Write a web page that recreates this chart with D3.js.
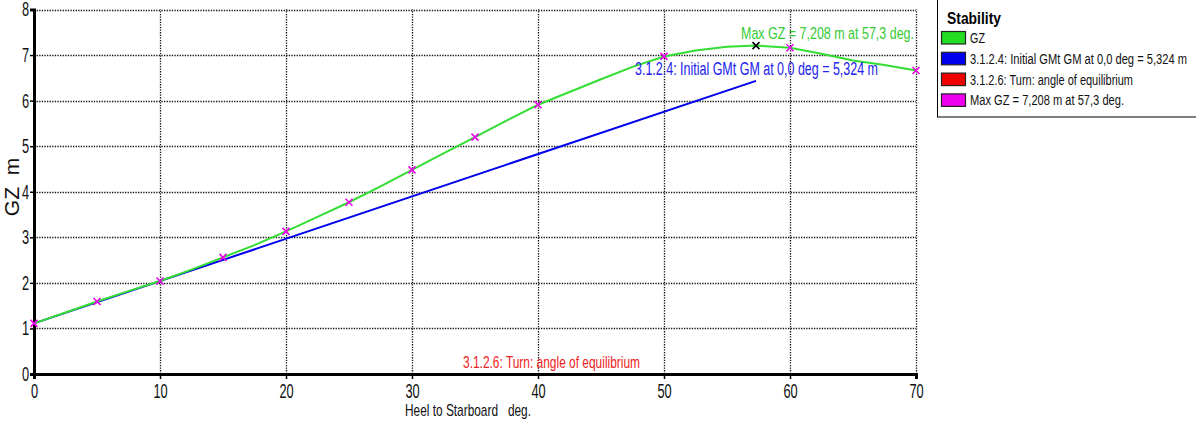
<!DOCTYPE html>
<html>
<head>
<meta charset="utf-8">
<script src="https://cdn.jsdelivr.net/npm/d3@7"></script>
<style>
  html, body { margin: 0; padding: 0; background: #fff; }
  svg { display: block; }
  text { font-family: "Liberation Sans", Arial, sans-serif; }
</style>
</head>
<body>
<svg id="chart" width="1196" height="423"></svg>
<script>
// ---------- data ----------
const heelDeg = [0, 2.5, 5, 7.5, 10, 12.5, 15, 17.5, 20, 22.5, 25, 27.5, 30, 32.5, 35, 37.5, 40, 42.5, 45, 47.5, 50, 52.5, 55, 57.3, 60, 62.5, 65, 67.5, 70];
const gzValues = [1.11, 1.35, 1.59, 1.82, 2.04, 2.29, 2.56, 2.83, 3.13, 3.45, 3.77, 4.12, 4.48, 4.84, 5.20, 5.56, 5.91, 6.19, 6.47, 6.74, 6.97, 7.10, 7.18, 7.208, 7.16, 7.03, 6.88, 6.78, 6.66];
const markerDeg = [0, 5, 10, 15, 20, 25, 30, 35, 40, 50, 60, 70];
const markerGZ = [1.11, 1.59, 2.04, 2.56, 3.13, 3.77, 4.48, 5.20, 5.91, 6.97, 7.16, 6.66];
const gmLineDeg = [0, 57.3];
const gmLineGZ = [1.11, 6.434];
const maxPoint = [57.3, 7.208];
const xTicks = [0, 10, 20, 30, 40, 50, 60, 70];
const yTicks = [0, 1, 2, 3, 4, 5, 6, 7, 8];
const legendLabels = ["GZ", "3.1.2.4: Initial GMt GM at 0,0 deg = 5,324 m", "3.1.2.6: Turn: angle of equilibrium", "Max GZ = 7,208 m at 57,3 deg."];
const legendColors = ["#22dd22", "#0000ee", "#ee0000", "#ee00ee"];

// ---------- layout ----------
const svg = d3.select("#chart");
const x = d3.scaleLinear().domain([0, 70]).range([34, 916]);
const y = d3.scaleLinear().domain([0, 8]).range([374, 9.5]);

function squeeze(sel, width) {
  sel.attr("textLength", width).attr("lengthAdjust", "spacingAndGlyphs");
}
function narrow(sel, f) {
  sel.each(function () {
    const l = this.getComputedTextLength();
    this.setAttribute("textLength", l * f);
    this.setAttribute("lengthAdjust", "spacingAndGlyphs");
  });
}

// grid
const grid = svg.append("g");
grid.selectAll("line.h").data(yTicks.filter(d => d > 0)).join("line")
  .attr("x1", x(0)).attr("x2", x(70))
  .attr("y1", d => Math.round(y(d)) + 0.5).attr("y2", d => Math.round(y(d)) + 0.5)
  .attr("stroke", "#111").attr("stroke-width", 1.3).attr("stroke-dasharray", "1.3,1.3");
grid.selectAll("line.v").data(xTicks.filter(d => d > 0)).join("line")
  .attr("x1", d => Math.round(x(d)) + 0.5).attr("x2", d => Math.round(x(d)) + 0.5)
  .attr("y1", y(0)).attr("y2", y(8))
  .attr("stroke", "#111").attr("stroke-width", 1.3).attr("stroke-dasharray", "1.3,1.3");

// axes
const xAxis = svg.append("g").attr("transform", `translate(0,${y(0)})`)
  .call(d3.axisBottom(x).tickValues(xTicks).tickSize(5).tickPadding(5));
xAxis.select(".domain").attr("stroke", "#000").attr("stroke-width", 3);
xAxis.selectAll(".tick line").attr("stroke", "#000").attr("stroke-width", 1.5);
xAxis.selectAll(".tick text").attr("font-size", 20).attr("fill", "#111")
  .attr("font-family", "Liberation Sans, Arial, sans-serif").call(narrow, 0.64);

const yAxis = svg.append("g").attr("transform", `translate(${x(0)},0)`)
  .call(d3.axisLeft(y).tickValues(yTicks).tickSize(4).tickPadding(1));
yAxis.select(".domain").attr("stroke", "#000").attr("stroke-width", 3);
yAxis.selectAll(".tick line").attr("stroke", "#000").attr("stroke-width", 1.5);
yAxis.selectAll(".tick text").attr("font-size", 20).attr("fill", "#111")
  .attr("font-family", "Liberation Sans, Arial, sans-serif").call(narrow, 0.64);
yAxis.selectAll(".tick").filter(d => d === 8).select("text").attr("dy", "0.28em");

// axis titles
svg.append("text").attr("x", 405).attr("y", 416).attr("font-size", 17).attr("fill", "#111")
  .attr("xml:space", "preserve").text("Heel to Starboard   deg.").call(squeeze, 126);
svg.append("text").attr("transform", "translate(19,187) rotate(-90)").attr("text-anchor", "middle")
  .attr("font-size", 21).attr("fill", "#111").attr("xml:space", "preserve").text("GZ  m");

// GM line
const line = d3.line().x(d => x(d[0])).y(d => y(d[1]));
svg.append("path").datum(d3.zip(gmLineDeg, gmLineGZ)).attr("d", line)
  .attr("fill", "none").attr("stroke", "#0000ee").attr("stroke-width", 2);

// GZ curve
svg.append("path").datum(d3.zip(heelDeg, gzValues)).attr("d", line)
  .attr("fill", "none").attr("stroke", "#33dd33").attr("stroke-width", 2);

// markers
function cross(g, cx, cy, s, color) {
  g.append("path").attr("d", `M${cx - s},${cy - s}L${cx + s},${cy + s}M${cx - s},${cy + s}L${cx + s},${cy - s}`)
    .attr("stroke", color).attr("stroke-width", 1.6).attr("fill", "none");
}
const mk = svg.append("g");
d3.zip(markerDeg, markerGZ).forEach(d => cross(mk, x(d[0]), y(d[1]), 3.5, "#ee00ee"));
cross(mk, x(maxPoint[0]), y(maxPoint[1]), 3.5, "#000");

// annotations
svg.append("text").attr("x", 741).attr("y", 39).attr("font-size", 17).attr("fill", "#33cc33")
  .text("Max GZ = 7,208 m at 57,3 deg.").call(squeeze, 173);
svg.append("text").attr("x", 635).attr("y", 75).attr("font-size", 18).attr("fill", "#2222ee")
  .text("3.1.2.4: Initial GMt GM at 0,0 deg = 5,324 m").call(squeeze, 243);
svg.append("text").attr("x", 463).attr("y", 368).attr("font-size", 17).attr("fill", "#ee2222")
  .text("3.1.2.6: Turn: angle of equilibrium").call(squeeze, 177);

// legend
const lg = svg.append("g");
lg.append("rect").attr("x", 937.5).attr("y", -2).attr("width", 270).attr("height", 119)
  .attr("fill", "#fff").attr("stroke", "#000").attr("stroke-width", 1);
lg.append("text").attr("x", 947).attr("y", 24).attr("font-size", 17).attr("font-weight", "bold")
  .attr("fill", "#000").text("Stability").call(squeeze, 54);
const rows = lg.selectAll("g.row").data(legendLabels).join("g")
  .attr("transform", (d, i) => `translate(0,${31 + i * 20.8})`);
rows.append("rect").attr("x", 941.5).attr("y", 0.5).attr("width", 24).attr("height", 12.5)
  .attr("fill", (d, i) => legendColors[i]).attr("stroke", "#222").attr("stroke-width", 1.2);
const legendWidths = [15, 217, 163, 154];
rows.append("text").attr("x", 970).attr("y", 12).attr("font-size", 14).attr("fill", "#111")
  .text(d => d).each(function (d, i) { d3.select(this).call(squeeze, legendWidths[i]); });
</script>
</body>
</html>
